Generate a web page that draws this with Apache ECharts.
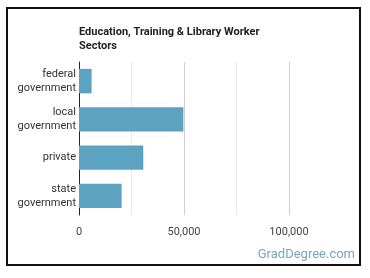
<!DOCTYPE html>
<html>
<head>
<meta charset="utf-8">
<script src="https://cdn.jsdelivr.net/npm/echarts@6/dist/echarts.min.js"></script>
<style>
  html, body { margin: 0; padding: 0; background: #fff; }
  #chart { width: 370px; height: 278px; }
</style>
</head>
<body>
<div id="chart"></div>
<script>
// sectors, top to bottom
const categories = ['federal\ngovernment', 'local\ngovernment', 'private', 'state\ngovernment']
const workers = [6000, 49700, 30600, 20300]
const tickLabels = { 0: '0', 50000: '50,000', 100000: '100,000' }

const chart = echarts.init(document.getElementById('chart'))
chart.setOption({
  animation: false,
  textStyle: { fontFamily: 'Roboto' },
  title: {
    text: 'Education, Training & Library Worker\nSectors',
    left: 74,
    top: 20,
    textStyle: { fontSize: 11, fontWeight: 'bold', color: '#222', lineHeight: 14 }
  },
  grid: { left: 79, right: 28.5, top: 62, bottom: 63, containLabel: false },
  xAxis: {
    type: 'value',
    min: 0,
    max: 125000,
    interval: 25000,
    axisLine: { show: false },
    axisTick: { show: false },
    axisLabel: {
      color: '#444',
      fontSize: 11,
      margin: 12,
      formatter: v => tickLabels[v] || ''
    },
    splitLine: {
      lineStyle: {
        color: ['#ddd', '#ebebeb', '#cfcfcf', '#ebebeb', '#cfcfcf', 'rgba(0,0,0,0)']
      }
    }
  },
  yAxis: {
    type: 'category',
    inverse: true,
    data: categories,
    axisLine: { lineStyle: { color: '#222', width: 1 } },
    axisTick: { show: false },
    axisLabel: { color: '#333', fontSize: 11, lineHeight: 14, margin: 3, align: 'right' }
  },
  series: [{
    type: 'bar',
    data: workers,
    barWidth: '64%',
    itemStyle: { color: '#5ba3c1' }
  }],
  graphic: [
    {
      type: 'rect',
      shape: { x: 7, y: 8, width: 353, height: 257 },
      style: { fill: 'none', stroke: '#111', lineWidth: 2 },
      silent: true
    },
    {
      type: 'text',
      right: 15,
      top: 248,
      style: { text: 'GradDegree.com', fill: '#78a6bf', fontSize: 13, fontFamily: 'Roboto' }
    }
  ]
})
</script>
</body>
</html>
